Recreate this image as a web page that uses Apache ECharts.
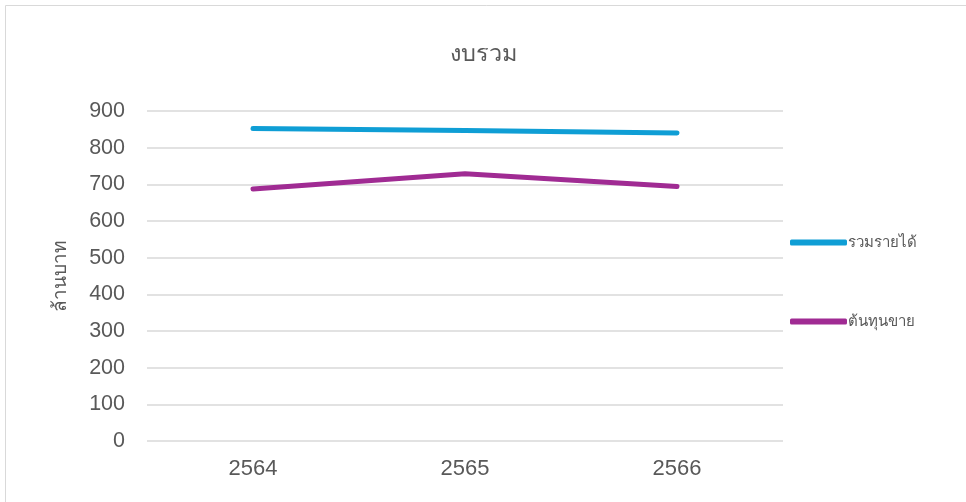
<!DOCTYPE html>
<html><head><meta charset="utf-8">
<script src="https://cdn.jsdelivr.net/npm/echarts@6/dist/echarts.min.js"></script>
<style>html,body{margin:0;padding:0;background:#fff}#c{width:966px;height:502px}</style>
</head><body><div id="c"></div>
<script>
const categories = ['2564', '2565', '2566'];
const revenue = [852, 847, 840];
const cost = [687, 729, 694];
const seriesNames = ['รวมรายได้', 'ต้นทุนขาย'];
const ff = '"Liberation Sans", "Noto Sans", "DejaVu Sans", sans-serif';
const chart = echarts.init(document.getElementById('c'));
chart.setOption({
  animation: false,
  textStyle: { fontFamily: ff },
  graphic: [{ type: 'rect', shape: { x: 5.5, y: 5.5, width: 1000, height: 1000 }, style: { fill: 'none', stroke: '#d9d9d9', lineWidth: 1 }, silent: true }],
  title: { text: 'งบรวม', left: 'center', top: 38, textStyle: { fontFamily: ff, fontSize: 23.5, fontWeight: 'normal', color: '#595959' } },
  legend: {
    orient: 'vertical', left: 790, top: 235, itemGap: 64, padding: 0,
    itemWidth: 57, itemHeight: 6, icon: 'roundRect',
    textStyle: { fontFamily: ff, fontSize: 15, color: '#595959', padding: [0, 0, 0, -4] },
    data: seriesNames
  },
  grid: { left: 147, right: 183, top: 111, bottom: 61 },
  xAxis: {
    type: 'category', data: categories, boundaryGap: true,
    axisLine: { show: false }, axisTick: { show: false },
    axisLabel: { fontFamily: ff, fontSize: 22, color: '#595959', margin: 17 }
  },
  yAxis: {
    type: 'value', min: 0, max: 900, interval: 100,
    name: 'ล้านบาท', nameLocation: 'middle', nameGap: 77, nameRotate: 90,
    nameTextStyle: { fontFamily: ff, fontSize: 19, color: '#595959' },
    axisLine: { show: false }, axisTick: { show: false },
    axisLabel: { fontFamily: ff, fontSize: 21.5, color: '#595959', margin: 22 },
    splitLine: { lineStyle: { color: '#d9d9d9', width: 1.5 } }
  },
  series: [
    { name: seriesNames[0], type: 'line', data: revenue, symbol: 'none', lineStyle: { width: 5, color: '#0F9ED5', cap: 'round' }, itemStyle: { color: '#0F9ED5' } },
    { name: seriesNames[1], type: 'line', data: cost, symbol: 'none', lineStyle: { width: 5, color: '#A02B93', cap: 'round' }, itemStyle: { color: '#A02B93' } }
  ]
});
</script></body></html>
